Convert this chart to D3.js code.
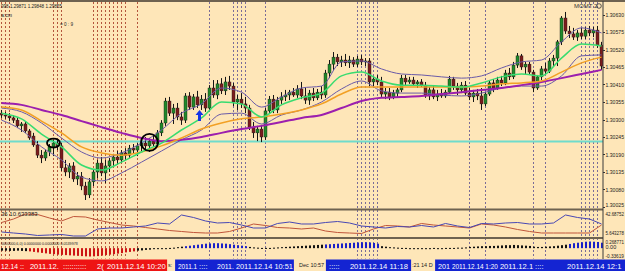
<!DOCTYPE html>
<html>
<head>
<meta charset="utf-8">
<script src="https://cdn.jsdelivr.net/npm/d3@7"></script>
<style>
  html, body { margin: 0; padding: 0; background: #fee6b8; }
  svg { display: block; font-family: "Liberation Sans", Arial, sans-serif; }
</style>
</head>
<body>
<svg id="chart" width="625" height="271"></svg>
<script>
// ローソク足 [open, high, low, close]
var candles = [
 [1.30320,1.30330,1.30305,1.30314],[1.30314,1.30324,1.30302,1.30311],[1.30311,1.30320,1.30295,1.30305],
 [1.30305,1.30314,1.30289,1.30298],[1.30298,1.30305,1.30273,1.30280],[1.30280,1.30292,1.30261,1.30286],
 [1.30286,1.30295,1.30258,1.30264],[1.30264,1.30270,1.30236,1.30242],[1.30248,1.30258,1.30214,1.30220],
 [1.30220,1.30232,1.30179,1.30188],[1.30188,1.30204,1.30163,1.30179],[1.30179,1.30204,1.30170,1.30198],
 [1.30198,1.30223,1.30185,1.30214],[1.30214,1.30236,1.30185,1.30226],[1.30226,1.30239,1.30204,1.30217],
 [1.30217,1.30226,1.30138,1.30148],[1.30148,1.30173,1.30122,1.30135],[1.30135,1.30163,1.30116,1.30154],
 [1.30154,1.30166,1.30104,1.30113],[1.30113,1.30135,1.30094,1.30122],[1.30122,1.30135,1.30078,1.30091],
 [1.30091,1.30104,1.30047,1.30063],[1.30063,1.30116,1.30053,1.30104],[1.30104,1.30141,1.30091,1.30135],
 [1.30135,1.30173,1.30116,1.30163],[1.30163,1.30182,1.30122,1.30132],[1.30132,1.30173,1.30100,1.30154],
 [1.30154,1.30179,1.30135,1.30170],[1.30170,1.30192,1.30154,1.30182],[1.30182,1.30201,1.30157,1.30173],
 [1.30173,1.30204,1.30163,1.30195],[1.30195,1.30210,1.30173,1.30188],[1.30188,1.30220,1.30179,1.30210],
 [1.30210,1.30223,1.30192,1.30204],[1.30204,1.30226,1.30185,1.30217],[1.30217,1.30236,1.30201,1.30226],
 [1.30226,1.30245,1.30204,1.30217],[1.30217,1.30242,1.30198,1.30232],[1.30232,1.30251,1.30214,1.30223],
 [1.30223,1.30267,1.30214,1.30258],[1.30258,1.30298,1.30248,1.30289],[1.30289,1.30368,1.30280,1.30358],
 [1.30358,1.30371,1.30311,1.30320],[1.30320,1.30349,1.30286,1.30336],[1.30336,1.30352,1.30298,1.30308],
 [1.30308,1.30324,1.30283,1.30298],[1.30298,1.30383,1.30289,1.30374],[1.30374,1.30386,1.30330,1.30339],
 [1.30339,1.30380,1.30330,1.30371],[1.30371,1.30390,1.30336,1.30346],[1.30346,1.30377,1.30330,1.30364],
 [1.30364,1.30383,1.30324,1.30336],[1.30336,1.30408,1.30327,1.30399],[1.30399,1.30424,1.30368,1.30377],
 [1.30377,1.30424,1.30364,1.30412],[1.30412,1.30430,1.30380,1.30390],[1.30390,1.30434,1.30377,1.30418],
 [1.30418,1.30437,1.30393,1.30405],[1.30405,1.30415,1.30342,1.30355],[1.30355,1.30377,1.30330,1.30364],
 [1.30364,1.30383,1.30336,1.30349],[1.30349,1.30371,1.30320,1.30336],[1.30336,1.30346,1.30267,1.30276],
 [1.30276,1.30292,1.30242,1.30258],[1.30258,1.30280,1.30232,1.30270],[1.30270,1.30283,1.30229,1.30245],
 [1.30245,1.30336,1.30236,1.30327],[1.30327,1.30374,1.30317,1.30364],[1.30364,1.30377,1.30320,1.30330],
 [1.30330,1.30371,1.30320,1.30361],[1.30361,1.30386,1.30349,1.30371],[1.30371,1.30393,1.30358,1.30377],
 [1.30377,1.30393,1.30361,1.30386],[1.30386,1.30399,1.30371,1.30377],[1.30377,1.30408,1.30368,1.30396],
 [1.30396,1.30418,1.30364,1.30374],[1.30374,1.30402,1.30349,1.30361],[1.30361,1.30393,1.30346,1.30383],
 [1.30383,1.30399,1.30358,1.30368],[1.30368,1.30396,1.30361,1.30386],[1.30386,1.30405,1.30364,1.30377],
 [1.30377,1.30456,1.30368,1.30446],[1.30446,1.30487,1.30430,1.30474],[1.30474,1.30512,1.30456,1.30496],
 [1.30496,1.30506,1.30468,1.30481],[1.30481,1.30500,1.30465,1.30487],[1.30487,1.30506,1.30468,1.30478],
 [1.30478,1.30500,1.30462,1.30487],[1.30487,1.30496,1.30465,1.30474],[1.30474,1.30500,1.30465,1.30490],
 [1.30490,1.30503,1.30471,1.30481],[1.30481,1.30493,1.30468,1.30484],[1.30484,1.30493,1.30405,1.30418],
 [1.30418,1.30437,1.30405,1.30427],[1.30427,1.30440,1.30408,1.30418],[1.30418,1.30434,1.30371,1.30380],
 [1.30380,1.30399,1.30364,1.30386],[1.30386,1.30399,1.30361,1.30371],[1.30371,1.30393,1.30364,1.30383],
 [1.30383,1.30399,1.30371,1.30393],[1.30393,1.30440,1.30386,1.30430],[1.30430,1.30440,1.30405,1.30418],
 [1.30418,1.30434,1.30412,1.30424],[1.30424,1.30434,1.30405,1.30412],[1.30412,1.30424,1.30399,1.30418],
 [1.30418,1.30427,1.30402,1.30408],[1.30408,1.30418,1.30368,1.30374],[1.30374,1.30402,1.30361,1.30393],
 [1.30393,1.30405,1.30364,1.30371],[1.30371,1.30393,1.30358,1.30380],[1.30380,1.30396,1.30368,1.30374],
 [1.30374,1.30393,1.30368,1.30386],[1.30386,1.30437,1.30380,1.30427],[1.30427,1.30434,1.30393,1.30405],
 [1.30405,1.30415,1.30377,1.30393],[1.30393,1.30418,1.30383,1.30408],[1.30408,1.30421,1.30377,1.30383],
 [1.30383,1.30399,1.30361,1.30371],[1.30371,1.30393,1.30355,1.30383],[1.30383,1.30396,1.30361,1.30374],
 [1.30374,1.30399,1.30330,1.30349],[1.30349,1.30386,1.30342,1.30380],[1.30380,1.30424,1.30374,1.30415],
 [1.30415,1.30427,1.30386,1.30399],[1.30399,1.30434,1.30393,1.30424],[1.30424,1.30437,1.30405,1.30415],
 [1.30415,1.30456,1.30408,1.30446],[1.30446,1.30462,1.30424,1.30434],[1.30434,1.30481,1.30427,1.30471],
 [1.30471,1.30509,1.30462,1.30500],[1.30500,1.30506,1.30456,1.30465],[1.30465,1.30481,1.30443,1.30474],
 [1.30474,1.30481,1.30440,1.30449],[1.30449,1.30456,1.30386,1.30399],[1.30399,1.30440,1.30393,1.30434],
 [1.30434,1.30468,1.30424,1.30459],[1.30459,1.30478,1.30440,1.30452],[1.30452,1.30493,1.30446,1.30484],
 [1.30484,1.30503,1.30468,1.30493],[1.30493,1.30550,1.30468,1.30544],[1.30544,1.30625,1.30534,1.30619],
 [1.30619,1.30638,1.30569,1.30578],[1.30578,1.30594,1.30556,1.30569],[1.30569,1.30588,1.30550,1.30559],
 [1.30559,1.30581,1.30547,1.30572],[1.30572,1.30588,1.30553,1.30562],[1.30562,1.30591,1.30553,1.30581],
 [1.30581,1.30594,1.30562,1.30572],[1.30572,1.30591,1.30559,1.30581],[1.30581,1.30594,1.30525,1.30534],
 [1.30534,1.30544,1.30456,1.30468]
];

// 移動平均・バンド (maIdx のバー位置で読み取り)
var maIdx = [0,5,10,15,20,25,30,35,40,45,50,55,60,65,70,75,80,85,90,95,100,105,110,115,120,125,130,135,140,145,150];
var maFast = [1.30320,1.30302,1.30254,1.30214,1.30157,1.30141,1.30166,1.30198,1.30226,1.30267,1.30305,1.30355,1.30349,1.30308,1.30346,1.30368,
  1.30383,1.30437,1.30449,1.30421,1.30408,1.30408,1.30405,1.30402,1.30415,1.30434,1.30443,1.30437,1.30493,1.30537,1.30531];
var maMid = [1.30339,1.30330,1.30295,1.30258,1.30214,1.30195,1.30188,1.30198,1.30217,1.30242,1.30270,1.30289,1.30302,1.30308,1.30317,1.30330,
  1.30349,1.30380,1.30402,1.30402,1.30402,1.30402,1.30402,1.30402,1.30405,1.30412,1.30415,1.30421,1.30449,1.30478,1.30496];
var maSlow = [1.30352,1.30346,1.30330,1.30314,1.30295,1.30276,1.30258,1.30242,1.30232,1.30236,1.30245,1.30258,1.30270,1.30280,1.30292,1.30305,
  1.30314,1.30336,1.30358,1.30368,1.30371,1.30374,1.30380,1.30386,1.30393,1.30399,1.30408,1.30418,1.30430,1.30443,1.30456];
var bandUp = [1.30336,1.30324,1.30289,1.30242,1.30198,1.30179,1.30195,1.30226,1.30267,1.30320,1.30349,1.30399,1.30386,1.30339,1.30371,1.30399,
  1.30405,1.30481,1.30484,1.30459,1.30443,1.30440,1.30434,1.30430,1.30437,1.30462,1.30481,1.30487,1.30544,1.30588,1.30572];
var bandDn = [1.30298,1.30267,1.30214,1.30173,1.30119,1.30107,1.30132,1.30166,1.30201,1.30236,1.30267,1.30317,1.30320,1.30286,1.30314,1.30330,
  1.30355,1.30396,1.30421,1.30390,1.30383,1.30383,1.30377,1.30374,1.30383,1.30399,1.30405,1.30405,1.30437,1.30500,1.30503];
var hLine = 1.30231;
var priceTicks = [1.30630,1.30575,1.30520,1.30465,1.30410,1.30355,1.30300,1.30245,1.30190,1.30135,1.30080,1.30025];

// 縦の点線 (バー番号)
var markers = [0,1,2,13,14,15,23,24,25,26,27,28,29,30,31,34,52,58,59,60,61,66,89,90,91,92,93,94,117,121,133,136,145,146,147,148,149];

// サブウィンドウ1 (2本線)
var subIdx = [0,3,6,9,12,15,18,21,24,27,30,33,36,39,42,45,48,51,54,57,60,63,66,69,72,75,78,81,84,87,90,93,96,99,102,105,108,111,114,117,120,123,126,129,132,135,138,141,144,147,150];
var subBlue = [11.82,10.27,8.73,6.42,7.19,7.96,5.64,5.64,16.45,17.99,17.99,19.54,21.08,25.71,24.17,38.06,34.20,28.80,25.71,26.48,22.62,17.99,17.99,
  24.94,27.25,24.17,24.17,26.48,28.02,25.71,21.08,19.54,17.99,20.31,19.54,21.85,19.54,24.94,21.08,18.76,24.94,24.17,25.71,26.48,24.17,24.17,25.71,
  38.06,34.20,31.88,24.17];
var subRed = [26.48,31.88,39.60,38.83,33.43,28.80,35.74,34.97,30.34,26.48,22.62,21.08,18.76,16.45,14.13,12.59,11.05,10.27,10.27,12.59,17.99,24.17,
  21.85,18.76,17.99,16.45,17.99,13.36,11.05,10.27,9.50,16.45,21.85,21.08,19.54,24.94,22.62,21.08,19.54,17.99,24.17,22.62,19.54,15.68,12.59,10.27,
  10.27,10.27,10.27,10.27,22.62];

// サブウィンドウ2 (ヒストグラム) k=黒 r=赤 b=青
var hist = [-0.10,-0.10,-0.11,-0.11,-0.10,-0.11,-0.12,
  -0.13,-0.15,-0.17,-0.19,-0.21,-0.23,-0.24,-0.26,-0.27,-0.28,-0.29,-0.30,-0.31,-0.32,-0.33,-0.336,-0.33,-0.32,-0.30,-0.28,-0.26,-0.24,-0.22,-0.20,-0.17,-0.15,-0.13,
  -0.10,-0.09,-0.07,-0.06,-0.04,-0.03,-0.02,-0.01,0.01,0.02,0.04,0.06,
  0.08,0.10,0.12,0.14,0.16,0.18,0.19,0.20,0.20,0.19,0.18,0.16,0.14,0.12,0.10,0.08,
  0.05,0.03,0.02,0.01,0.01,0.01,0.02,
  0.03,0.04,0.05,0.06,0.07,0.08,0.09,0.10,0.11,0.12,0.13,0.14,
  0.15,0.16,0.17,0.18,0.19,0.20,0.21,0.22,0.23,0.24,0.24,0.23,0.21,0.18,
  0.08,0.06,0.04,0.03,0.02,0.01,0.01,0,0,0,0,0,0,0.01,0,0,0.01,0.01,0.01,0.02,0.02,0.03,
  0.05,0.06,0.07,0.08,0.08,0.09,0.09,0.10,
  0.11,0.12,0.12,0.13,0.12,0.11,0.10,0.09,
  0.06,0.05,0.05,0.06,0.07,0.08,0.10,0.12,0.14,
  0.17,0.20,0.22,0.24,0.26,0.268771,0.26,0.25,0.22];
var histState = "kkkkkkk" + "rrrrrrrrrrrrrrrrrrrrrrrrrrr" + "kkkkkkkkkkkk" + "bbbbbbbbbbbbbbbb" + "kkkkkkkkkkkkkkkkkkk" +
  "bbbbbbbbbbbbbb" + "kkkkkkkkkkkkkkkkkkkkkkkkkkkkkkkkkkkkkkkkkkkkkkk" + "bbbbbbbbb";

// 時間軸ラベル (開始バー位置)
var timeText = ["12.14", "::", "2011.12.", ":::::::::::", "2(", "2011.12.14 10:20", "s:", "2011.1", "::::", "2011.",
  "2011.12.14 10:51", "Dec 10:57", ":::::", "2011.12.14 11:18", ":21  14 D", "201", "2011.12.14 1:20", "2011.12.1", "::::", "2011.12.14 12:1"];
var timeAt = [-0.1, 4.6, 7.1, 15.4, 23.9, 26.4, 41.6, 44.1, 49.4, 53.9, 58.6, 74.4, 81.9, 87.1, 102.6, 109.1, 112.6, 124.6, 133.4, 141.4];

var svg = d3.select("#chart");

var x = d3.scaleLinear().domain([0, 150]).range([1.5, 601.5]);
var y = d3.scaleLinear().domain([1.30025, 1.30630]).range([207, 14.5]);
var ySub = d3.scaleLinear().domain([5.643278, 42.68752]).range([236, 212]);
var yHist = d3.scaleLinear().domain([-0.33619, 0.268771]).range([256.5, 241.5]);

// テキストを幅に収める (フォントサイズを縮める)
function fitText(sel, maxW) {
  sel.each(function(d, k) {
    var w = this.getComputedTextLength();
    var lim = typeof maxW === "function" ? maxW.call(this, d, k) : maxW;
    if (w > lim) {
      var fs = parseFloat(d3.select(this).attr("font-size"));
      d3.select(this).attr("font-size", (fs * lim / w).toFixed(2));
    }
  });
}

svg.append("rect").attr("width", 625).attr("height", 271).attr("fill", "#fee6b8");

svg.append("clipPath").attr("id", "mainClip")
  .append("rect").attr("x", 0).attr("y", 2).attr("width", 603).attr("height", 207);

// 縦点線
svg.append("g").selectAll("line").data(markers).enter().append("line")
  .attr("x1", function(d) { return x(d); })
  .attr("x2", function(d) { return x(d); })
  .attr("y1", 2).attr("y2", 258.5)
  .attr("stroke", function(d) { return x(d) < 170 ? "#b4553c" : "#7a6c98"; })
  .attr("stroke-width", 1)
  .attr("stroke-dasharray", "2,2");

var main = svg.append("g").attr("clip-path", "url(#mainClip)");

// 水平線
main.append("line")
  .attr("x1", 0).attr("x2", 603)
  .attr("y1", y(hLine)).attr("y2", y(hLine))
  .attr("stroke", "#6fdccc").attr("stroke-width", 2);

// ローソク足
var bars = main.append("g").selectAll("g").data(candles).enter().append("g");
bars.append("line")
  .attr("x1", function(d, i) { return x(i); })
  .attr("x2", function(d, i) { return x(i); })
  .attr("y1", function(d) { return y(d[1]); })
  .attr("y2", function(d) { return y(d[2]); })
  .attr("stroke", "#151515").attr("stroke-width", 1);
bars.append("rect")
  .attr("x", function(d, i) { return x(i) - 1.5; })
  .attr("width", 3)
  .attr("y", function(d) { return y(Math.max(d[0], d[3])); })
  .attr("height", function(d) { return Math.max(1, Math.abs(y(d[0]) - y(d[3]))); })
  .attr("fill", function(d) { return d[3] >= d[0] ? "#1f8a2a" : "#7c1c1c"; })
  .attr("stroke", "#1a1a1a").attr("stroke-width", 0.4);

// 移動平均線
var maLine = d3.line()
  .x(function(d) { return x(d[0]); })
  .y(function(d) { return y(d[1]); })
  .curve(d3.curveMonotoneX);

[[bandUp, "#6a5aa8", 1], [bandDn, "#6a5aa8", 1], [maSlow, "#9c1fae", 2], [maMid, "#f2a024", 1.5], [maFast, "#38dc70", 1.5]]
  .forEach(function(s) {
    main.append("path")
      .datum(maIdx.map(function(i, k) { return [i, s[0][k]]; }))
      .attr("d", maLine)
      .attr("fill", "none")
      .attr("stroke", s[1])
      .attr("stroke-width", s[2]);
  });

// 手書きの丸
var marks = [[13, 1.30226, 6.5, 4.5], [37, 1.30228, 8.5, 8.5]];
main.selectAll("ellipse").data(marks).enter().append("ellipse")
  .attr("cx", function(d) { return x(d[0]); })
  .attr("cy", function(d) { return y(d[1]); })
  .attr("rx", function(d) { return d[2]; })
  .attr("ry", function(d) { return d[3]; })
  .attr("fill", "none").attr("stroke", "#000").attr("stroke-width", 1.8);

// 青い矢印
var ax = x(49.5), ay = y(1.30330);
main.append("path")
  .attr("d", "M" + ax + "," + ay + " l-4,5 h2.5 v6 h3 v-6 h2.5 z")
  .attr("fill", "#1434e6");

// サブウィンドウ1
var subLine = d3.line()
  .x(function(d) { return x(d[0]); })
  .y(function(d) { return ySub(d[1]); });
[[subRed, "#c0553a"], [subBlue, "#4848b4"]].forEach(function(s) {
  svg.append("path")
    .datum(subIdx.map(function(i, k) { return [i, s[0][k]]; }))
    .attr("d", subLine)
    .attr("fill", "none")
    .attr("stroke", s[1])
    .attr("stroke-width", 1);
});

// サブウィンドウ2 ヒストグラム
var histColor = { k: "#111111", r: "#cc1414", b: "#1a20c8" };
var y0 = yHist(0);
svg.append("g").selectAll("rect").data(hist).enter().append("rect")
  .attr("x", function(d, i) { return x(i) - 0.5; })
  .attr("width", 2)
  .attr("y", function(d) { return Math.min(yHist(d), y0); })
  .attr("height", function(d) { return Math.max(1, Math.abs(yHist(d) - y0)); })
  .attr("fill", function(d, i) { return histColor[histState[i]]; });

// 枠線
svg.append("line").attr("x1", 0).attr("x2", 625).attr("y1", 1).attr("y2", 1).attr("stroke", "#6e6250").attr("stroke-width", 2);
[209.5, 238].forEach(function(v) {
  svg.append("line").attr("x1", 0).attr("x2", 603).attr("y1", v).attr("y2", v)
    .attr("stroke", "#6e6250").attr("stroke-width", 2.2);
});
svg.append("line").attr("x1", 603).attr("x2", 603).attr("y1", 1).attr("y2", 259)
  .attr("stroke", "#3a3a3a").attr("stroke-width", 1);

// 価格軸
var pAxis = svg.append("g");
pAxis.selectAll("line").data(priceTicks).enter().append("line")
  .attr("x1", 603).attr("x2", 605)
  .attr("y1", function(d) { return Math.round(y(d)) + 0.5; })
  .attr("y2", function(d) { return Math.round(y(d)) + 0.5; })
  .attr("stroke", "#333");
pAxis.selectAll("text").data(priceTicks).enter().append("text")
  .attr("x", 605.5)
  .attr("y", function(d) { return Math.min(y(d), 205) + 2; })
  .attr("font-size", 6).attr("fill", "#222")
  .text(function(d) { return d.toFixed(5); })
  .call(fitText, 18.5);

var axisLabels = [["42.68752", ySub.range()[1] + 3.5], ["5.643278", ySub.range()[0] - 1], ["0.268771", yHist(0.268771) + 2],
  ["0.00", y0 + 1], ["-0.33619", yHist(-0.33619) + 1]];
svg.append("g").selectAll("text").data(axisLabels).enter().append("text")
  .attr("x", 605.5).attr("y", function(d) { return d[1]; })
  .attr("font-size", 5.5).attr("fill", "#222")
  .text(function(d) { return d[0]; })
  .call(fitText, 18.5);

// 左上の文字
var info = [["998 1.29871 1.29848 1.29855", 1, 8, 61], ["a:cm", 1, 17, 11], ["= 0 : 9", 60, 26, 13],
  ["36 10.633383", 1, 216, 37], ["0000000,6,0) 0.0000000 0.0000000 0.0539978", 1, 245, 77]];
svg.append("g").selectAll("text").data(info).enter().append("text")
  .attr("x", function(d) { return d[1]; })
  .attr("y", function(d) { return d[2]; })
  .attr("font-size", 6).attr("fill", "#222")
  .text(function(d) { return d[0]; })
  .call(fitText, function(d) { return d[3]; });

svg.append("text").attr("x", 574).attr("y", 8).attr("font-size", 6).attr("fill", "#333").text("MOMT 2");
svg.append("circle").attr("cx", 599).attr("cy", 6).attr("r", 2.3).attr("fill", "none").attr("stroke", "#333").attr("stroke-width", 0.8);

// 時間軸
var boxes = [[-0.5, 41.4, "#ee1414"], [43.4, 73.1, "#1424d2"], [81.1, 102.4, "#1424d2"], [108.4, 156, "#1424d2"]];
var tAxis = svg.append("g");
tAxis.selectAll("rect").data(boxes).enter().append("rect")
  .attr("x", function(d) { return Math.max(0, x(d[0])); })
  .attr("width", function(d) { return Math.min(625, x(d[1])) - Math.max(0, x(d[0])); })
  .attr("y", 259.5).attr("height", 11.5)
  .attr("fill", function(d) { return d[2]; });

function boxOf(i) {
  return boxes.filter(function(b) { return i >= b[0] && i <= b[1]; })[0];
}
function startX(k) { return Math.max(1, x(timeAt[k])); }
tAxis.selectAll("text").data(timeText).enter().append("text")
  .attr("x", function(d, k) { return startX(k); })
  .attr("y", function(d, k) { return boxOf(timeAt[k]) ? 268.5 : 266.5; })
  .attr("font-size", function(d, k) { return boxOf(timeAt[k]) ? 7.6 : 5.5; })
  .attr("fill", function(d, k) { return boxOf(timeAt[k]) ? "#ffffff" : "#222"; })
  .text(function(d) { return d; })
  .call(fitText, function(d, k) {
    // 次のラベルか箱の端までに収める
    var b = boxOf(timeAt[k]);
    var end = k < timeText.length - 1 ? startX(k + 1) - 2 : 624;
    if (b) end = Math.min(end, x(b[1]) - 1, 624);
    return end - startX(k);
  });
</script>
</body>
</html>
